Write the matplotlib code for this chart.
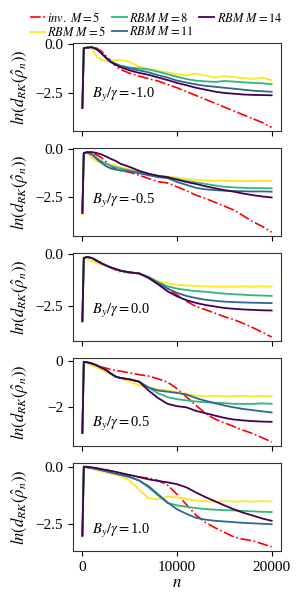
import matplotlib
matplotlib.use("Agg")
import matplotlib.pyplot as plt
import numpy as np

plt.rcParams['font.family'] = ['Liberation Serif', 'DejaVu Serif']
plt.rcParams['mathtext.fontset'] = 'stix'

# iteration grid
n = [0, 150, 500, 1000, 1500, 2000, 2500, 3000, 3500, 4000, 5000, 6000, 7000,
     8000, 9000, 10000, 11000, 12000, 13000, 14000, 15000, 16000, 17000, 18000,
     19000, 20000]

by_gamma = ["-1.0", "-0.5", "0.0", "0.5", "1.0"]

# one row per panel (B_y/gamma = -1.0 ... 1.0)
inv_m5 = [
    [-3.3, -0.2, -0.17, -0.15, -0.2, -0.35, -0.6, -0.85, -1.1, -1.3, -1.5, -1.65, -1.78,
     -1.9, -2.08, -2.25, -2.45, -2.65, -2.85, -3.05, -3.25, -3.45, -3.65, -3.85, -4.05, -4.3],
    [-3.3, -0.2, -0.17, -0.17, -0.3, -0.43, -0.65, -0.88, -1.03, -1.1, -1.2, -1.35, -1.52,
     -1.68, -1.75, -1.95, -2.15, -2.38, -2.55, -2.75, -2.95, -3.15, -3.45, -3.75, -4.0, -4.3],
    [-3.2, -0.2, -0.15, -0.2, -0.35, -0.45, -0.55, -0.66, -0.76, -0.85, -0.9, -0.95, -1.12,
     -1.35, -1.65, -1.95, -2.25, -2.5, -2.65, -2.82, -2.98, -3.12, -3.3, -3.5, -3.72, -3.95],
    [-3.1, -0.05, -0.08, -0.12, -0.2, -0.27, -0.32, -0.38, -0.42, -0.45, -0.52, -0.6, -0.66,
     -0.78, -0.92, -1.2, -1.55, -1.92, -2.25, -2.5, -2.66, -2.82, -2.98, -3.12, -3.3, -3.48],
    [-3.0, 0.0, -0.02, -0.05, -0.08, -0.12, -0.15, -0.2, -0.27, -0.33, -0.4, -0.45, -0.5,
     -0.6, -0.8, -1.2, -1.65, -2.1, -2.42, -2.65, -2.85, -3.05, -3.15, -3.22, -3.35, -3.48],
]
rbm_m5 = [
    [-3.3, -0.2, -0.17, -0.2, -0.65, -0.8, -0.88, -0.85, -0.82, -0.8, -0.92, -1.15, -1.28,
     -1.38, -1.45, -1.55, -1.6, -1.52, -1.62, -1.72, -1.65, -1.7, -1.75, -1.8, -1.72, -1.86],
    [-3.35, -0.2, -0.2, -0.45, -0.62, -0.7, -0.75, -0.78, -0.85, -0.92, -1.05, -1.18, -1.3,
     -1.38, -1.42, -1.47, -1.55, -1.59, -1.62, -1.64, -1.64, -1.65, -1.65, -1.65, -1.65, -1.65],
    [-3.2, -0.2, -0.25, -0.35, -0.45, -0.5, -0.58, -0.65, -0.72, -0.8, -0.9, -0.95, -1.1,
     -1.3, -1.4, -1.47, -1.5, -1.53, -1.55, -1.56, -1.56, -1.56, -1.55, -1.56, -1.55, -1.56],
    [-3.1, -0.05, -0.1, -0.2, -0.3, -0.38, -0.48, -0.58, -0.67, -0.75, -0.9, -1.05, -1.15,
     -1.22, -1.28, -1.35, -1.42, -1.5, -1.52, -1.5, -1.53, -1.52, -1.5, -1.53, -1.51, -1.53],
    [-3.0, 0.0, -0.05, -0.1, -0.15, -0.2, -0.25, -0.3, -0.35, -0.4, -0.6, -1.0, -1.38,
     -1.42, -1.3, -1.33, -1.4, -1.48, -1.5, -1.53, -1.5, -1.52, -1.5, -1.52, -1.49, -1.52],
]
rbm_m8 = [
    [-3.3, -0.2, -0.17, -0.15, -0.25, -0.45, -0.7, -0.9, -1.0, -1.1, -1.2, -1.25, -1.3,
     -1.42, -1.55, -1.68, -1.8, -1.88, -1.92, -1.95, -1.9, -1.93, -1.97, -2.0, -2.02, -2.07],
    [-3.3, -0.2, -0.17, -0.25, -0.45, -0.62, -0.75, -0.86, -0.93, -1.0, -1.1, -1.2, -1.3,
     -1.38, -1.45, -1.55, -1.65, -1.72, -1.8, -1.88, -1.95, -1.98, -2.0, -2.02, -2.02, -2.03],
    [-3.2, -0.2, -0.15, -0.2, -0.32, -0.45, -0.55, -0.65, -0.72, -0.8, -0.88, -0.93, -1.1,
     -1.35, -1.55, -1.65, -1.72, -1.77, -1.8, -1.85, -1.89, -1.92, -1.94, -1.97, -1.98, -2.0],
    [-3.1, -0.05, -0.07, -0.12, -0.2, -0.3, -0.4, -0.55, -0.68, -0.74, -0.8, -0.9, -1.15,
     -1.4, -1.56, -1.65, -1.7, -1.75, -1.78, -1.8, -1.82, -1.85, -1.85, -1.85, -1.83, -1.85],
    [-3.0, 0.0, -0.03, -0.06, -0.1, -0.15, -0.2, -0.25, -0.3, -0.35, -0.45, -0.6, -0.9,
     -1.25, -1.58, -1.68, -1.74, -1.8, -1.84, -1.87, -1.89, -1.9, -1.92, -1.94, -1.96, -1.97],
]
rbm_m11 = [
    [-3.3, -0.2, -0.17, -0.15, -0.25, -0.45, -0.7, -0.9, -1.02, -1.12, -1.25, -1.35, -1.45,
     -1.6, -1.72, -1.88, -1.98, -2.08, -2.15, -2.2, -2.25, -2.3, -2.35, -2.4, -2.43, -2.46],
    [-3.3, -0.2, -0.17, -0.28, -0.5, -0.7, -0.88, -1.0, -1.05, -1.1, -1.15, -1.25, -1.35,
     -1.45, -1.5, -1.7, -1.85, -2.0, -2.08, -2.12, -2.15, -2.17, -2.18, -2.19, -2.19, -2.2],
    [-3.2, -0.2, -0.15, -0.2, -0.32, -0.45, -0.55, -0.65, -0.72, -0.8, -0.88, -0.93, -1.12,
     -1.38, -1.65, -1.85, -2.0, -2.1, -2.18, -2.23, -2.27, -2.29, -2.31, -2.32, -2.33, -2.34],
    [-3.1, -0.05, -0.07, -0.12, -0.2, -0.3, -0.4, -0.55, -0.68, -0.74, -0.8, -0.9, -1.15,
     -1.28, -1.33, -1.38, -1.45, -1.6, -1.72, -1.82, -1.92, -2.0, -2.07, -2.12, -2.17, -2.22],
    [-3.0, 0.0, -0.03, -0.06, -0.1, -0.15, -0.2, -0.25, -0.3, -0.35, -0.45, -0.6, -0.85,
     -1.2, -1.55, -1.85, -2.05, -2.22, -2.3, -2.35, -2.38, -2.41, -2.44, -2.46, -2.48, -2.5],
]
rbm_m14 = [
    [-3.3, -0.2, -0.17, -0.15, -0.25, -0.45, -0.7, -0.92, -1.05, -1.18, -1.35, -1.48, -1.58,
     -1.72, -1.85, -2.0, -2.12, -2.25, -2.35, -2.45, -2.52, -2.56, -2.6, -2.62, -2.63, -2.64],
    [-3.3, -0.2, -0.15, -0.15, -0.2, -0.27, -0.38, -0.5, -0.6, -0.75, -0.92, -1.12, -1.27,
     -1.38, -1.45, -1.58, -1.7, -1.8, -1.92, -2.02, -2.12, -2.2, -2.3, -2.38, -2.45, -2.5],
    [-3.2, -0.2, -0.15, -0.2, -0.32, -0.45, -0.55, -0.65, -0.72, -0.8, -0.88, -0.93, -1.15,
     -1.45, -1.78, -2.02, -2.2, -2.33, -2.43, -2.5, -2.57, -2.61, -2.64, -2.66, -2.68, -2.69],
    [-3.1, -0.05, -0.07, -0.12, -0.2, -0.3, -0.4, -0.55, -0.68, -0.74, -0.8, -0.9, -1.28,
     -1.6, -1.85, -1.95, -2.0, -2.15, -2.25, -2.35, -2.45, -2.52, -2.56, -2.59, -2.61, -2.62],
    [-3.0, 0.0, 0.0, -0.03, -0.06, -0.1, -0.14, -0.18, -0.22, -0.27, -0.36, -0.45, -0.55,
     -0.62, -0.68, -0.76, -0.9, -1.12, -1.32, -1.5, -1.68, -1.85, -2.0, -2.12, -2.25, -2.35],
]

yticks = [[0, -2.5], [0, -2.5], [0, -2.5], [0, -2], [0, -2.5]]
text_y = [0.41, 0.40, 0.34, 0.25, 0.23]

cmap = plt.get_cmap('viridis')
rbm_series = [(rbm_m5, cmap(1.0), "$RBM\\ M=5$"),
              (rbm_m8, cmap(0.66), "$RBM\\ M=8$"),
              (rbm_m11, cmap(0.33), "$RBM\\ M=11$"),
              (rbm_m14, cmap(0.0), "$RBM\\ M=14$")]

fig, axes = plt.subplots(5, 1, figsize=(3, 6), dpi=100, sharex=True)
plt.subplots_adjust(left=0.243, right=0.937, top=0.928, bottom=0.082, hspace=0.19)

for i, ax in enumerate(axes):
    ax.plot(n, inv_m5[i], color='red', linestyle='-.', lw=1.2, label="$inv.\\ M=5$")
    for vals, col, lab in rbm_series:
        ax.plot(n, vals[i], color=col, lw=1.3, label=lab)
    ax.set_yticks(yticks[i])
    ax.text(0.09, text_y[i], "$B_y/\\gamma=$" + by_gamma[i], transform=ax.transAxes,
            fontsize=10.5, va='center')
    ax.set_ylabel("$ln(d_{RK}(\\hat{\\rho}_n))$", fontsize=12, labelpad=3)
    ax.tick_params(labelsize=11)
    for s in ax.spines.values():
        s.set_color('#333333')

axes[-1].set_xticks([0, 10000, 20000])
axes[-1].set_xlabel("$n$", fontsize=12, labelpad=1)
fig.align_ylabels(axes)

handles, labels = axes[0].get_legend_handles_labels()
fig.legend(handles, labels, loc='lower center', bbox_to_anchor=(0.52, 0.922), ncol=3,
           frameon=False, fontsize=9, handlelength=1.2, handletextpad=0.2,
           columnspacing=0.45, labelspacing=0.05, borderpad=0.1)

plt.savefig("out.png", dpi=100)
